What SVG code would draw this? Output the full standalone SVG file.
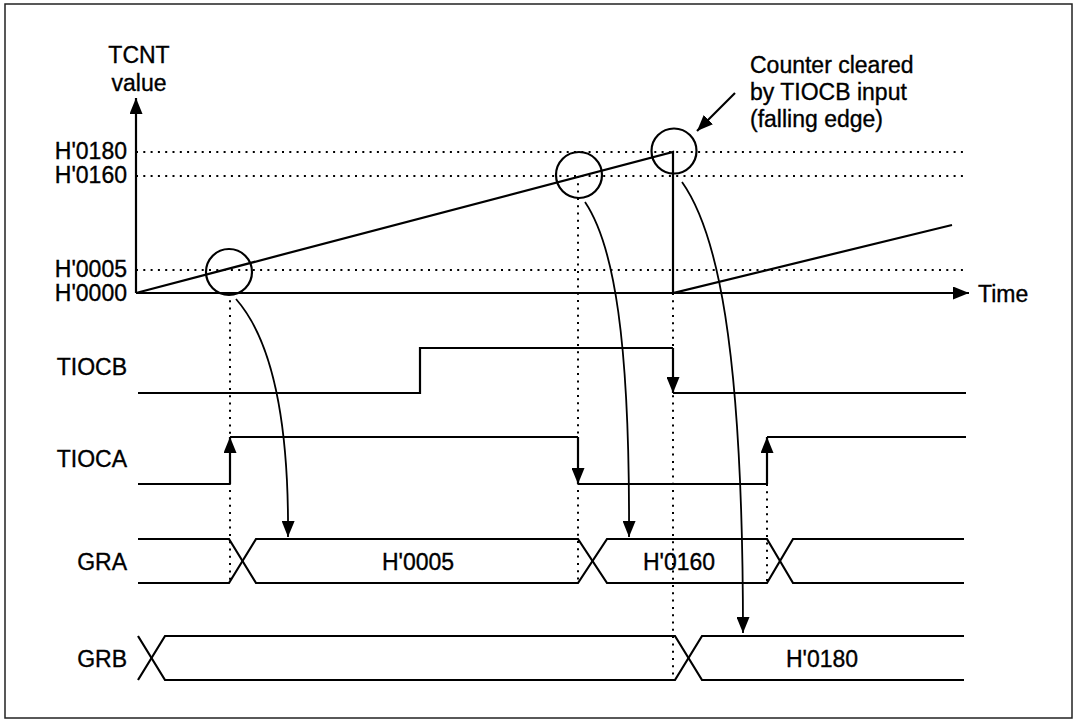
<svg xmlns="http://www.w3.org/2000/svg" width="1075" height="721" viewBox="0 0 1075 721">
<style>
text{font-family:"Liberation Sans",Arial,sans-serif;font-size:23px;fill:#000;stroke:#000;stroke-width:0.35}
.s{fill:none;stroke:#000;stroke-width:2.2}
.d{fill:none;stroke:#000;stroke-width:2;stroke-dasharray:2 5.3}
.c{fill:none;stroke:#000;stroke-width:1.8}
</style>
<defs>
<marker id="ah" viewBox="0 0 16 13" refX="16" refY="6.5" markerWidth="16" markerHeight="13" markerUnits="userSpaceOnUse" orient="auto">
<path d="M0,0 L16,6.5 L0,13 z" fill="#000"/>
</marker>
</defs>
<rect x="5" y="4" width="1067" height="714" fill="#fff" stroke="#222" stroke-width="1.5"/>

<g id="grid">
<path class="d" d="M136,152H967M136,176H967M136,270H967"/>
<path class="d" d="M230,293V583M578,176V583M673,293V680M767,484V583"/>
</g>

<g id="axes">
<line class="s" x1="136" y1="293" x2="136" y2="98" marker-end="url(#ah)"/>
<line class="s" x1="136" y1="293" x2="969" y2="293" marker-end="url(#ah)"/>
<text x="139" y="63" text-anchor="middle">TCNT</text>
<text x="139" y="91" text-anchor="middle">value</text>
<text x="978" y="302">Time</text>
<text x="127" y="159" text-anchor="end">H'0180</text>
<text x="127" y="183" text-anchor="end">H'0160</text>
<text x="127" y="277" text-anchor="end">H'0005</text>
<text x="127" y="301" text-anchor="end">H'0000</text>
</g>

<g id="counter">
<path class="s" d="M136,293 L673,152 L673,293 L952,225"/>
<circle class="s" cx="229" cy="272" r="23"/>
<circle class="s" cx="579" cy="175" r="23"/>
<circle class="s" cx="674" cy="151" r="22.5"/>
</g>

<g id="note">
<text x="750" y="73">Counter cleared</text>
<text x="750" y="100">by TIOCB input</text>
<text x="750" y="127">(falling edge)</text>
<line class="s" x1="735" y1="93" x2="697" y2="131" marker-end="url(#ah)"/>
</g>

<g id="tiocb">
<text x="127" y="375" text-anchor="end">TIOCB</text>
<path class="s" d="M138,393H420V348H673"/>
<line class="s" x1="673" y1="348" x2="673" y2="393" marker-end="url(#ah)"/>
<path class="s" d="M673,393H966"/>
</g>

<g id="tioca">
<text x="127" y="467" text-anchor="end">TIOCA</text>
<path class="s" d="M138,484H230"/>
<line class="s" x1="230" y1="484" x2="230" y2="437" marker-end="url(#ah)"/>
<path class="s" d="M230,437H578"/>
<line class="s" x1="578" y1="437" x2="578" y2="484" marker-end="url(#ah)"/>
<path class="s" d="M578,484H767"/>
<line class="s" x1="767" y1="484" x2="767" y2="437" marker-end="url(#ah)"/>
<path class="s" d="M767,437H966"/>
</g>

<g id="gra">
<text x="127" y="570" text-anchor="end">GRA</text>
<path class="s" d="M138,539H229L256,583H578L607,539H767L793,583H964"/>
<path class="s" d="M138,583H229L256,539H578L607,583H767L793,539H964"/>
<text x="418" y="570" text-anchor="middle">H'0005</text>
<text x="679" y="570" text-anchor="middle">H'0160</text>
</g>

<g id="grb">
<text x="127" y="667" text-anchor="end">GRB</text>
<path class="s" d="M138,636L165,680H675L702,636H964"/>
<path class="s" d="M138,680L165,636H675L702,680H964"/>
<text x="822" y="667" text-anchor="middle">H'0180</text>
</g>

<g id="connectors">
<path class="c" d="M236,299 C272,340 289,420 288,537" marker-end="url(#ah)"/>
<path class="c" d="M585,202 C614,245 630,340 629,537" marker-end="url(#ah)"/>
<path class="c" d="M682,182 C716,230 743,340 743,633" marker-end="url(#ah)"/>
</g>
</svg>
